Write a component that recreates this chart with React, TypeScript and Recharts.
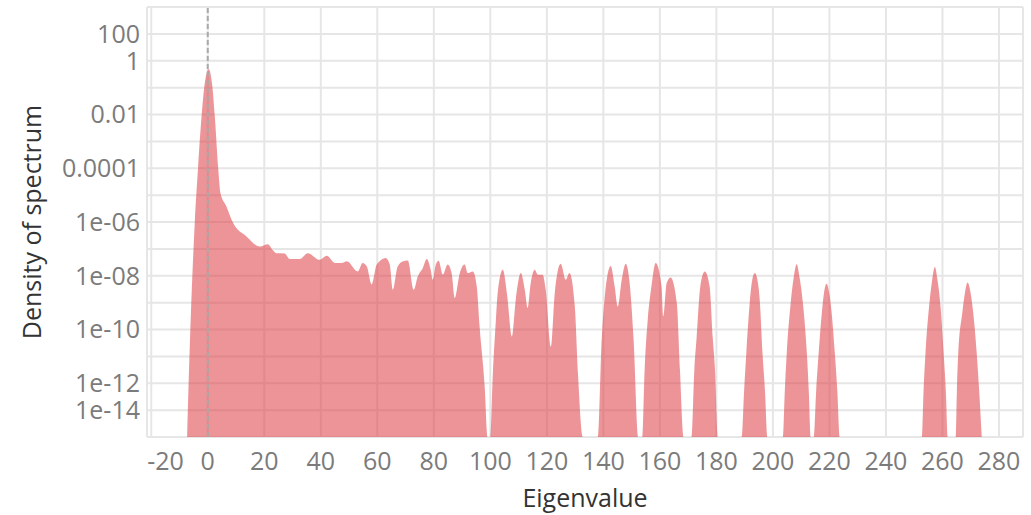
import { AreaChart, Area, XAxis, YAxis, CartesianGrid, ReferenceLine } from 'recharts';

const FONT = '"Open Sans", "Noto Sans", sans-serif';

// eigenvalue positions and the spectral density at each one
const eigenvalue = [
  -7.3, -6.4, -4.6, -3.4, -2.2, -1.06, 0.35, 1.5, 2.5, 3.65, 4.5, 6.6, 9.0, 13.7, 18.4, 21.3, 22.9, 24.3, 27.2, 29,
  32.6, 35.4, 39.6, 42.1, 45, 47.4, 49.2, 53.1, 54.8, 56.3, 58, 59.8, 63, 64.4, 65.5, 67.2, 69, 70.8, 72.9, 74.3,
  76.1, 77.5, 78.9, 79.6, 80.7, 81.7, 83.2, 84.9, 86.3, 87.4, 89.2, 90.9, 92, 93.8, 95.2, 96.2, 98, 99.0,
  100.0, 100.9, 101.9, 102.6, 104.4, 106, 107.6, 109, 110.8, 112.2, 113.2, 114.3, 115.7, 116.8, 118.5, 119.6,
  121.4, 122.8, 124.9, 126.7, 128, 129.9, 131, 132.7,
  138, 139.4, 140.5, 142.6, 144, 145.1, 146.5, 147.9, 149.3, 150.7, 152.3,
  153.8, 154.6, 155.7, 157, 158.5, 160.6, 161.2, 162.4, 163.8, 166, 167.1, 168.4,
  171.2, 172.2, 173, 174.3, 175.9, 177.6, 178.7, 179.5, 180.5,
  189, 189.8, 190.6, 191.8, 192.6, 193.6, 194.6, 195.4, 196.3, 197.2, 198,
  203.5, 204.2, 204.9, 206.3, 207.3, 208.4, 209.5, 210.6, 212, 212.7, 213.4,
  214.5, 215.3, 216.2, 217.3, 218, 219, 220, 220.8, 221.9, 222.8, 223.6,
  252.7, 253.3, 254, 255.4, 256.3, 257.3, 258.3, 259.2, 260.4, 261.2, 261.9,
  264.7, 265.1, 265.6, 267, 268, 268.9, 269.9, 270.9, 272.1, 273, 273.9,
];

const density = [
  1e-14, 1.8e-11, 9.1e-7, 1.15e-4, 8.3e-3, 0.145, 0.48, 0.145, 8.3e-3, 1.15e-4, 1.17e-5, 3.8e-6, 9.1e-7, 2.9e-7, 1.23e-7, 1.5e-7, 9.3e-8, 6.9e-8, 6.8e-8, 4.2e-8,
  4.2e-8, 6.9e-8, 3.9e-8, 5.5e-8, 3.0e-8, 3.0e-8, 3.5e-8, 1.45e-8, 3.0e-8, 2.2e-8, 4.7e-9, 2.6e-8, 4.6e-8, 2.6e-8, 3.0e-9, 2.2e-8, 3.4e-8, 3.7e-8, 3.0e-9, 9.3e-9,
  1.95e-8, 4.2e-8, 1.66e-8, 7.1e-9, 2.6e-8, 3.6e-8, 1.1e-8, 2.6e-8, 1.26e-8, 1.48e-9, 1.26e-8, 2.6e-8, 1.26e-8, 1.45e-8, 4.0e-9, 1.3e-10, 7.6e-13, 1e-14,
  1e-14, 2.4e-12, 1.74e-10, 2.3e-9, 1.66e-8, 1.7e-9, 5.5e-11, 1.29e-9, 1.26e-8, 3.0e-9, 6.3e-10, 5.4e-9, 1.66e-8, 1.1e-8, 1.1e-8, 3.0e-9,
  2.3e-11, 2.3e-9, 2.8e-8, 7.1e-9, 1.26e-8, 7.2e-10, 2.4e-12, 1e-14,
  1e-14, 4.2e-11, 1.7e-9, 2.3e-8, 4.0e-9, 7.2e-10, 7.1e-9, 2.8e-8, 5.4e-9, 4.2e-11, 1e-14,
  1e-14, 3.2e-12, 2.3e-10, 4.0e-9, 3.0e-8, 4.0e-9, 3.1e-10, 5.4e-9, 8.7e-9, 9.5e-10, 3.2e-12, 1e-14,
  1e-14, 3.2e-12, 5.0e-11, 4.0e-9, 1.45e-8, 4.0e-9, 5.0e-11, 3.2e-12, 1e-14,
  1e-14, 5.0e-13, 1.38e-11, 1e-9, 6.3e-9, 1.26e-8, 6.3e-9, 1e-9, 1.38e-11, 5.0e-13, 1e-14,
  1e-14, 5.0e-13, 1.38e-11, 1e-9, 7.9e-9, 2.7e-8, 7.9e-9, 1e-9, 1.38e-11, 5.0e-13, 1e-14,
  1e-14, 5.0e-13, 1.38e-11, 4.0e-10, 2.0e-9, 5.0e-9, 2.0e-9, 4.0e-10, 1.38e-11, 5.0e-13, 1e-14,
  1e-14, 5.0e-13, 1.38e-11, 1e-9, 6.3e-9, 2.1e-8, 6.3e-9, 1e-9, 1.38e-11, 5.0e-13, 1e-14,
  1e-14, 5.0e-13, 1.38e-11, 4.0e-10, 2.5e-9, 5.6e-9, 2.5e-9, 4.0e-10, 1.38e-11, 5.0e-13, 1e-14,
];

const xTicks = [-20, 0, 20, 40, 60, 80, 100, 120, 140, 160, 180, 200, 220, 240, 260, 280];

// one grid line per decade
const yGrid = [100, 10, 1, 0.1, 0.01, 1e-3, 1e-4, 1e-5, 1e-6, 1e-7, 1e-8, 1e-9, 1e-10, 1e-11, 1e-12, 1e-13, 1e-14];
const yLabelAt = [10, 1, 0.01, 1e-4, 1e-6, 1e-8, 1e-10, 1e-12, 1e-13];
const yLabels = ['100', '1', '0.01', '0.0001', '1e-06', '1e-08', '1e-10', '1e-12', '1e-14'];

const rows = eigenvalue.map((x, i) => ({ x, density: density[i] }));

const yFormat = (v: number) => {
  const i = yLabelAt.findIndex((t) => Math.abs(Math.log10(t) - Math.log10(v)) < 1e-6);
  return i >= 0 ? yLabels[i] : '';
};

function XTick({ x, y, payload, index }: any) {
  const first = index === 0;
  return (
    <text
      x={first ? x - 4 : x}
      y={y}
      dy="0.71em"
      textAnchor={first ? 'start' : 'middle'}
      fill="#7b7b7b"
      fontSize={25}
      fontFamily={FONT}
    >
      {payload.value}
    </text>
  );
}

export default function App() {
  return (
    <div style={{ position: 'absolute', left: 0, top: 0, background: '#fff' }}>
      <AreaChart width={1031} height={515} data={rows} margin={{ top: 7, right: 8, bottom: 0, left: 0 }}>
        <CartesianGrid stroke="#e6e6e6" strokeWidth={2} />
        <XAxis
          dataKey="x"
          type="number"
          domain={[-21.5, 288.5]}
          ticks={xTicks}
          interval={0}
          allowDataOverflow
          height={78}
          axisLine={false}
          tickLine={false}
          tickSize={6}
          tickMargin={9}
          tick={<XTick />}
          label={{
            content: () => (
              <text x={585} y={507} textAnchor="middle" fill="#333" fontSize={25} fontFamily={FONT}>
                Eigenvalue
              </text>
            ),
          }}
        />
        <YAxis
          dataKey="density"
          type="number"
          scale="log"
          domain={[1e-14, 100]}
          ticks={yGrid}
          interval={0}
          allowDataOverflow
          width={147}
          axisLine={false}
          tickLine={false}
          tickSize={6}
          tickMargin={1}
          tickFormatter={yFormat}
          tick={{ fill: '#7b7b7b', fontSize: 25, fontFamily: FONT }}
          label={{
            content: () => (
              <text
                x={41}
                y={222}
                transform="rotate(-90 41 222)"
                textAnchor="middle"
                fill="#333"
                fontSize={25}
                fontFamily={FONT}
              >
                Density of spectrum
              </text>
            ),
          }}
        />
        <ReferenceLine x={0} stroke="#a9a9a9" strokeWidth={2} strokeDasharray="5 3" />
        <Area
          type="monotone"
          dataKey="density"
          baseValue="dataMin"
          fill="#dc3c41"
          fillOpacity={0.55}
          stroke="none"
          isAnimationActive={false}
        />
      </AreaChart>
    </div>
  );
}
